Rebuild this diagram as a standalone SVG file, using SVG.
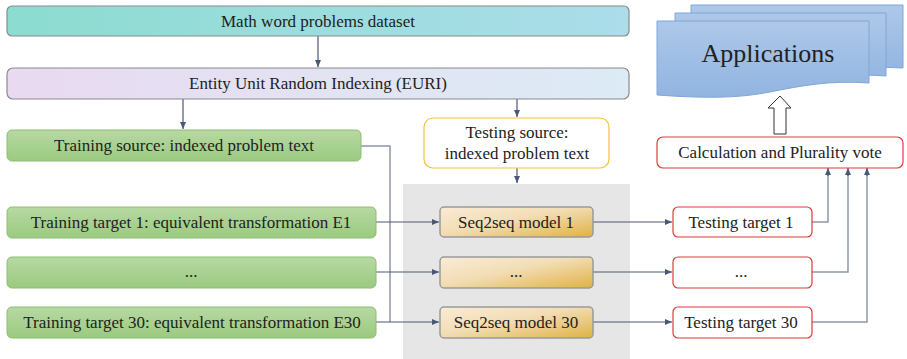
<svg xmlns="http://www.w3.org/2000/svg" width="907" height="359" viewBox="0 0 907 359">
<defs>
<linearGradient id="gMath" x1="0" y1="0" x2="1" y2="0"><stop offset="0" stop-color="#8CDCD0"/><stop offset="1" stop-color="#ABDDEA"/></linearGradient>
<linearGradient id="gEuri" x1="0" y1="0" x2="1" y2="0"><stop offset="0" stop-color="#E9DAF1"/><stop offset="1" stop-color="#DCEBF5"/></linearGradient>
<linearGradient id="gGreen" x1="0" y1="0" x2="0" y2="1"><stop offset="0" stop-color="#B7D9A3"/><stop offset="1" stop-color="#9BCA80"/></linearGradient>
<linearGradient id="gSeq" x1="0" y1="0" x2="1" y2="1"><stop offset="0" stop-color="#FAEBD7"/><stop offset="0.45" stop-color="#F2DDB4"/><stop offset="1" stop-color="#E0B144"/></linearGradient>
<linearGradient id="gDoc" x1="0" y1="0" x2="0" y2="1"><stop offset="0" stop-color="#AEC8E9"/><stop offset="1" stop-color="#91B4E0"/></linearGradient>
<marker id="ah" markerWidth="8" markerHeight="8" refX="7" refY="4" orient="auto" markerUnits="userSpaceOnUse"><path d="M0,1 L7,4 L0,7 Z" fill="#4A5874"/></marker>
<style>
text{font-family:"Liberation Serif","Times New Roman",serif;fill:#222;font-size:17px;text-anchor:middle}
.grn{fill:url(#gGreen);stroke:#8BBE70;stroke-width:1}
.seq{fill:url(#gSeq);stroke:#9A9A9A;stroke-width:1.5}
.red{fill:#fff;stroke:#E0393A;stroke-width:1.2}
.c{fill:none;stroke:#4A5874;stroke-width:1.2}
.cl{fill:none;stroke:#8D98AA;stroke-width:1.5}
.doc{fill:url(#gDoc);stroke:#7FA7D8;stroke-width:1}
</style>
</defs>
<rect x="0" y="0" width="907" height="359" fill="#fff"/>
<rect id="bg" x="403" y="184" width="227" height="175" fill="#E6E6E6"/>

<g id="connectors">
<path class="c" d="M318,36 V67" marker-end="url(#ah)"/>
<path class="c" d="M183,99 V129" marker-end="url(#ah)"/>
<path class="c" d="M517,99 V117" marker-end="url(#ah)"/>
<path class="c" d="M517,168 V183" marker-end="url(#ah)"/>
<path class="cl" d="M361,146 H390 V322"/>
<path class="c" d="M376,222 H439" marker-end="url(#ah)"/>
<path class="c" d="M376,272 H439" marker-end="url(#ah)"/>
<path class="c" d="M376,322 H439" marker-end="url(#ah)"/>
<path class="c" d="M593,222 H672" marker-end="url(#ah)"/>
<path class="c" d="M593,272 H672" marker-end="url(#ah)"/>
<path class="c" d="M593,322 H672" marker-end="url(#ah)"/>
<path class="cl" d="M812,222 H828 V175"/>
<path class="cl" d="M812,272 H848 V175"/>
<path class="cl" d="M812,322 H867 V175"/>
<path class="c" d="M828,176 V168" marker-end="url(#ah)"/>
<path class="c" d="M848,176 V168" marker-end="url(#ah)"/>
<path class="c" d="M867,176 V168" marker-end="url(#ah)"/>
<path d="M774,134 V108 H768 L780,96 L791,108 H786 V134 Z" fill="#fff" stroke="#333" stroke-width="1"/>
</g>

<g id="math"><rect x="7" y="6" width="622" height="30" rx="5" fill="url(#gMath)" stroke="#8A8A8A" stroke-width="1.2"/><text x="318" y="27">Math word problems dataset</text></g>
<g id="euri"><rect x="7" y="68" width="622" height="31" rx="6" fill="url(#gEuri)" stroke="#8A8A8A" stroke-width="1.2"/><text x="318" y="89">Entity Unit Random Indexing (EURI)</text></g>
<g id="train-src"><rect class="grn" x="7" y="130" width="354" height="31" rx="5"/><text x="184" y="151">Training source: indexed problem text</text></g>
<g id="train-t1"><rect class="grn" x="7" y="207" width="369" height="31" rx="5"/><text x="191" y="228">Training target 1: equivalent transformation E1</text></g>
<g id="train-tdots"><rect class="grn" x="7" y="257" width="369" height="31" rx="5"/><text x="191" y="277">...</text></g>
<g id="train-t30"><rect class="grn" x="7" y="307" width="369" height="31" rx="5"/><text x="192" y="328">Training target 30: equivalent transformation E30</text></g>
<g id="test-src"><rect x="424" y="118" width="185" height="50" rx="9" fill="#fff" stroke="#F6C23A" stroke-width="1.2"/><text x="517" y="138">Testing source:</text><text x="517" y="159">indexed problem text</text></g>
<g id="seq1"><rect class="seq" x="440" y="207" width="153" height="30" rx="4"/><text x="516" y="228">Seq2seq model 1</text></g>
<g id="seqdots"><rect class="seq" x="440" y="257" width="153" height="31" rx="4"/><text x="516" y="277">...</text></g>
<g id="seq30"><rect class="seq" x="440" y="307" width="153" height="31" rx="4"/><text x="516" y="328">Seq2seq model 30</text></g>
<g id="tt1"><rect class="red" x="673" y="207" width="139" height="30" rx="5"/><text x="741" y="228">Testing target 1</text></g>
<g id="ttdots"><rect class="red" x="673" y="257" width="139" height="31" rx="5"/><text x="741" y="277">...</text></g>
<g id="tt30"><rect class="red" x="673" y="307" width="139" height="31" rx="5"/><text x="741" y="328">Testing target 30</text></g>
<g id="calc"><rect class="red" x="657" y="137" width="246" height="31" rx="6"/><text x="780" y="158">Calculation and Plurality vote</text></g>
<g id="apps">
<path class="doc" d="M691,5 H903 V68 C870,66 840,70 815,75 L691,75 Z"/>
<path class="doc" d="M675,13 H886 V76 C850,73 820,78 790,84 L675,84 Z"/>
<path class="doc" d="M657,21 H869 V83 C830,80 800,86 770,92 C735,99 700,98 657,95 Z"/>
<text x="768" y="62" style="font-size:26px">Applications</text>
</g>
</svg>
